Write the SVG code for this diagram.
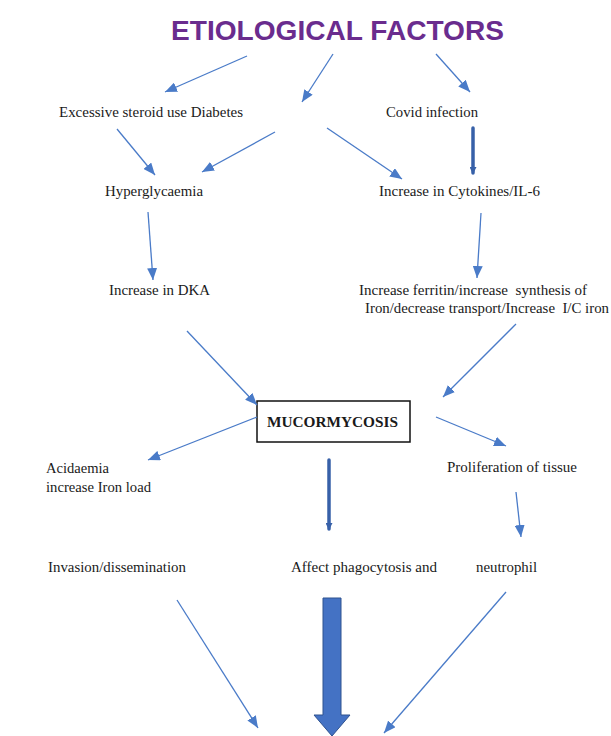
<svg xmlns="http://www.w3.org/2000/svg" width="611" height="736" viewBox="0 0 611 736">
  <defs>
    <marker id="ah" markerUnits="userSpaceOnUse" markerWidth="12" markerHeight="10" viewBox="0 0 12 10" refX="12" refY="5" orient="auto">
      <path d="M0,0 L12,5 L0,10 Z" fill="#4a7bc8"/>
    </marker>
    <marker id="ahThick" markerUnits="userSpaceOnUse" markerWidth="7" markerHeight="7" viewBox="0 0 7 7" refX="6" refY="3.5" orient="auto">
      <path d="M0,0 L7,3.5 L0,7 Z" fill="#3760a8"/>
    </marker>
    <style>
      .t { font-family: "Liberation Serif", "Times New Roman", serif; font-size: 15px; fill: #1a1a1a; white-space: pre; }
      .tb { font-family: "Liberation Serif", "Times New Roman", serif; font-size: 15px; font-weight: bold; fill: #1a1a1a; }
      .title { font-family: "Liberation Sans", Arial, sans-serif; font-size: 28px; font-weight: bold; fill: #6a2c8e; }
      .c { stroke: #4a7bc8; stroke-width: 1.3; fill: none; marker-end: url(#ah); }
      .ck { stroke: #3760a8; stroke-width: 3.5; fill: none; stroke-linecap: round; marker-end: url(#ahThick); }
    </style>
  </defs>
  <rect width="611" height="736" fill="#ffffff"/>

  <g id="title">
    <text class="title" x="171" y="40" textLength="333" lengthAdjust="spacingAndGlyphs">ETIOLOGICAL FACTORS</text>
  </g>
  <g id="steroid">
    <text class="t" x="59" y="117" textLength="184" lengthAdjust="spacingAndGlyphs">Excessive steroid use Diabetes</text>
  </g>
  <g id="covid">
    <text class="t" x="386" y="117" textLength="92" lengthAdjust="spacingAndGlyphs">Covid infection</text>
  </g>
  <g id="hyperglycaemia">
    <text class="t" x="105" y="196" textLength="98" lengthAdjust="spacingAndGlyphs">Hyperglycaemia</text>
  </g>
  <g id="cytokines">
    <text class="t" x="379" y="196" textLength="161" lengthAdjust="spacingAndGlyphs">Increase in Cytokines/IL-6</text>
  </g>
  <g id="dka">
    <text class="t" x="109" y="295" textLength="101" lengthAdjust="spacingAndGlyphs">Increase in DKA</text>
  </g>
  <g id="ferritin">
    <text class="t" x="359" y="295" textLength="228" lengthAdjust="spacingAndGlyphs">Increase ferritin/increase  synthesis of</text>
    <text class="t" x="365" y="313" textLength="244" lengthAdjust="spacingAndGlyphs">Iron/decrease transport/Increase  I/C iron</text>
  </g>
  <g id="mucormycosis">
    <rect x="257" y="401" width="153" height="41" fill="#ffffff" stroke="#111111" stroke-width="1.5"/>
    <text class="tb" x="267" y="427" textLength="131" lengthAdjust="spacingAndGlyphs">MUCORMYCOSIS</text>
  </g>
  <g id="acidaemia">
    <text class="t" x="46" y="473" textLength="63" lengthAdjust="spacingAndGlyphs">Acidaemia</text>
    <text class="t" x="46" y="492" textLength="105" lengthAdjust="spacingAndGlyphs">increase Iron load</text>
  </g>
  <g id="proliferation">
    <text class="t" x="447" y="472" textLength="130" lengthAdjust="spacingAndGlyphs">Proliferation of tissue</text>
  </g>
  <g id="invasion">
    <text class="t" x="48" y="572" textLength="138" lengthAdjust="spacingAndGlyphs">Invasion/dissemination</text>
  </g>
  <g id="phagocytosis">
    <text class="t" x="291" y="572" textLength="146" lengthAdjust="spacingAndGlyphs">Affect phagocytosis and</text>
  </g>
  <g id="neutrophil">
    <text class="t" x="476" y="572" textLength="61" lengthAdjust="spacingAndGlyphs">neutrophil</text>
  </g>

  <g id="connectors">
    <line class="c" x1="247" y1="56" x2="165" y2="92"/>
    <line class="c" x1="333" y1="54" x2="302" y2="102"/>
    <line class="c" x1="436" y1="54" x2="470" y2="92"/>
    <line class="c" x1="117" y1="129" x2="155" y2="175"/>
    <line class="c" x1="275" y1="132" x2="202" y2="172"/>
    <line class="c" x1="327" y1="128" x2="402" y2="179"/>
    <line class="ck" x1="473" y1="128" x2="473" y2="173"/>
    <line class="c" x1="148" y1="212" x2="153" y2="280"/>
    <line class="c" x1="481" y1="213" x2="477" y2="278"/>
    <line class="c" x1="187" y1="331" x2="257" y2="405"/>
    <line class="c" x1="516" y1="324" x2="443" y2="397"/>
    <line class="c" x1="257" y1="417" x2="148" y2="460"/>
    <line class="c" x1="436" y1="417" x2="506" y2="446"/>
    <line class="ck" x1="329" y1="460" x2="329" y2="529"/>
    <line class="c" x1="516" y1="492" x2="521" y2="537"/>
    <line class="c" x1="177" y1="600" x2="258" y2="728"/>
    <line class="c" x1="506" y1="592" x2="384" y2="733"/>
    <path d="M323,598 L341,598 L341,715 L350,715 L332,736 L314,715 L323,715 Z" fill="#4472c4" stroke="#2f528f" stroke-width="1"/>
  </g>
</svg>
